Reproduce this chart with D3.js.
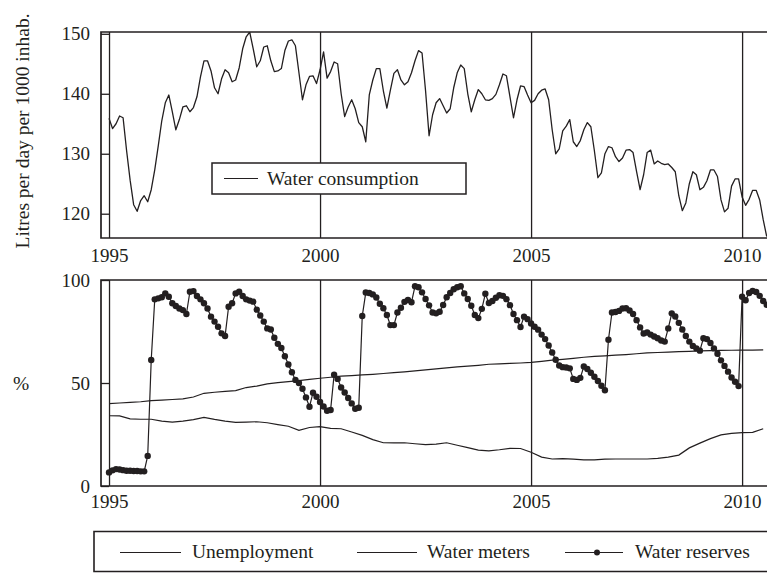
<!DOCTYPE html>
<html>
<head>
<meta charset="utf-8">
<script src="https://cdn.jsdelivr.net/npm/d3@7"></script>
<style>
  body { margin: 0; background: #fff; }
  svg { display: block; }
  text { font-family: "Liberation Serif", "Times New Roman", serif; fill: #231f20; }
</style>
</head>
<body>
<script>
// monthly series start in January 1995
const startYear = 1995;

// litres per day per 1000 inhab., monthly
const consumption = [
  135.9, 134.2, 135, 136.3, 136, 130.5, 125.6, 121.5, 120.4, 122.2, 123, 122,
  124, 127.3, 131.3, 135.5, 138.5, 139.8, 137, 134, 135.7, 137.8, 138, 137,
  137.7, 139.5, 142.8, 145.5, 145.5, 143.8, 141, 140, 142.5, 144, 143.5, 142,
  142.3, 144.3, 147.5, 149.5, 150.3, 147.5, 144.5, 145.5, 147.8, 148, 145.5, 143.7,
  143.8, 144.2, 147.2, 148.8, 149, 148, 143.5, 139, 141.5, 142.9, 143, 141.7,
  144, 147, 142.6, 143.7, 145.3, 145, 140, 136.2, 137.8, 139, 137.5, 135.2,
  134.5, 132, 139.8, 142.3, 144.2, 144.2, 140.5, 137.6, 140.6, 143.4, 144, 142.3,
  141.5, 142, 143.5, 145.5, 147.2, 146.8, 140.5, 133, 136.5, 138.5, 139.2, 138,
  136.8, 137.5, 141, 143.5, 144.8, 144.2, 140, 137, 139, 140.7, 140, 139,
  138.9, 139.2, 139.9, 141.5, 143.3, 143, 139.5, 136, 139, 141.3, 141.2, 139.8,
  138.5, 138.9, 140, 140.6, 140.8, 139, 134, 130, 130.8, 133.8, 134.6, 135.7,
  132, 131.2, 132.2, 134, 135.2, 134.5, 130.5, 126, 126.8, 130, 131.2, 131,
  129.5, 128.7, 129.3, 130.6, 130.7, 130.2, 127, 124, 126.5, 130.2, 130.6, 128.3,
  128.8, 128.4, 128.2, 128.3, 127.7, 127, 123, 120.5, 121.8, 125, 127, 126.5,
  124, 124.4, 125.5, 127.3, 127.3, 126.2, 122.3, 120.3, 120.9, 124.6, 125.8, 125.8,
  122.8, 121.4, 122.4, 123.9, 123.9, 122.3, 119, 116.2
];

// water reserves %, monthly
const reserves = [
  6.6, 7.6, 8.2, 8, 7.7, 7.4, 7.4, 7.3, 7.3, 7.1, 7.1, 14.6,
  61.2, 90.6, 91.1, 91.6, 93.5, 91.9, 88.7, 87.4, 86.2, 85.4, 83.5, 94.3,
  94.6, 92.2, 90.6, 88.7, 86.2, 82.2, 79.8, 77.3, 74.1, 72.8, 87, 88.7,
  93.5, 94.3, 92.2, 90.6, 90, 89.5, 85.6, 82.8, 79.8, 76.5, 76, 72,
  69, 67, 63, 59, 55.2, 51.5, 50, 47.2, 43, 38.5, 45.3, 43.3,
  40.8, 38.6, 36.5, 36.9, 54, 52, 47.8, 45.4, 42.7, 40.1, 37.5, 38,
  82.5, 93.9, 93.7, 93, 91.5, 88.5, 86.3, 83, 78.1, 78.1, 84.2, 86.5,
  89.4, 90.3, 89.2, 97, 96.5, 94, 90.8, 87.7, 84.2, 83.8, 84.6, 87.9,
  91.6, 93.7, 95.5, 96.5, 97, 93.5, 90.8, 87.5, 83, 81.5, 86, 93.3,
  88.8, 89.8, 91.4, 92.6, 92.3, 90.7, 87.8, 83.5, 80.5, 77.2, 82.2, 81,
  78.9, 77.3, 75.9, 73.5, 71.3, 68.2, 64.8, 61.3, 58.5, 57.7, 57.5, 57.1,
  52, 51.5, 52.5, 58, 56.8, 55, 53, 51, 48.7, 46.5, 71, 84.2,
  84.5, 85, 86.2, 86.3, 85.2, 83.5, 80.5, 77, 74, 74.5, 73.5, 72.6,
  71.7, 70.6, 70.1, 76.5, 83.8, 82.3, 79.2, 76, 72.8, 70.1, 68, 66.8,
  65.7, 71.7, 71.3, 69.4, 66.8, 64.2, 61, 58.3, 55.5, 52.7, 50.6, 48.5,
  91.9, 90.2, 93.7, 94.7, 94.2, 92.3, 89.8, 88
];

// quarterly series
const unemployment = [
  34.1, 34, 32.6, 32.4, 32.4, 31.5, 31, 31.5, 32.2, 33.3, 32.3, 31.5,
  30.9, 31, 31.2, 30.7, 29.8, 29, 27, 28.4, 28.8, 28, 27.8, 26.2,
  24.6, 22.5, 21, 20.9, 21, 20.5, 20.1, 20.3, 21, 19.8, 18.6, 17.4,
  17.1, 17.6, 18.3, 18.2, 16.4, 14, 13.1, 13.3, 13, 12.7, 12.7, 13,
  13.1, 13.1, 13.1, 13.1, 13.4, 14, 15, 18.5, 20.8, 23, 24.8, 25.5,
  25.9, 26, 27.8
];
const meters = [
  40, 40.3, 40.6, 40.9, 41.4, 41.7, 42, 42.3, 43.2, 45, 45.5, 45.9,
  46.3, 47.8, 48.5, 49.6, 50.2, 50.7, 51.2, 51.8, 52.3, 52.8, 53.3, 53.6,
  53.9, 54.2, 54.6, 55, 55.4, 55.9, 56.4, 56.9, 57.3, 57.8, 58.2, 58.6,
  59.1, 59.3, 59.5, 59.7, 60, 60.5, 61.1, 61.5, 62, 62.5, 62.9, 63.2,
  63.5, 63.8, 64.2, 64.6, 64.8, 65, 65.2, 65.4, 65.6, 65.7, 65.8, 65.9,
  66, 66, 66.1
];

const yearTicks = [1995, 2000, 2005, 2010];
const topTicks = [120, 130, 140, 150];
const bottomTicks = [0, 50, 100];
const legendNames = ['Unemployment', 'Water meters', 'Water reserves'];

const width = 767, height = 573;
const ink = '#231f20';
const left = 101, right = 767;

const svg = d3.select('body').append('svg')
  .attr('width', width)
  .attr('height', height);

const x = d3.scaleLinear().domain([1994.81, 2010.59]).range([left, right]);
const yTop = d3.scaleLinear().domain([115.95, 150.3]).range([238, 32]);
const yBot = d3.scaleLinear().domain([0, 100]).range([486, 280]);

const monthly = arr => arr.map((v, i) => ({ t: startYear + i / 12, v }));
const quarterly = arr => arr.map((v, i) => ({ t: startYear + i / 4, v }));

svg.append('clipPath').attr('id', 'clipTop')
  .append('rect').attr('x', left).attr('y', 32).attr('width', right - left).attr('height', 206);
svg.append('clipPath').attr('id', 'clipBot')
  .append('rect').attr('x', left).attr('y', 275).attr('width', right - left).attr('height', 211);

function panel(y, ticks, top, bottom, labelPad) {
  // vertical year lines + labels
  const xa = svg.append('g')
    .attr('transform', `translate(0,${bottom})`)
    .call(d3.axisBottom(x).tickValues(yearTicks).tickFormat(d3.format('d'))
      .tickSize(-(bottom - top)).tickPadding(labelPad));
  xa.select('.domain').remove();
  xa.selectAll('line').attr('stroke', ink).attr('stroke-width', 1.3);
  xa.selectAll('text').attr('font-size', 19).attr('fill', ink)
    .attr('font-family', '"Liberation Serif", serif');

  const ya = svg.append('g')
    .attr('transform', `translate(${x(1995)},0)`)
    .call(d3.axisLeft(y).tickValues(ticks).tickSize(x(1995) - left).tickPadding(11));
  ya.select('.domain').remove();
  ya.selectAll('line').attr('stroke', ink).attr('stroke-width', 1.3);
  ya.selectAll('text').attr('font-size', 19).attr('fill', ink)
    .attr('font-family', '"Liberation Serif", serif');

  // frame, open on the right where the picture is cut
  svg.append('path')
    .attr('d', `M${right},${top}H${left}V${bottom}H${right}`)
    .attr('fill', 'none').attr('stroke', ink).attr('stroke-width', 1.7);
}

panel(yTop, topTicks, 32, 238, 10.5);
panel(yBot, bottomTicks, 280, 486, 8.5);

// top line
const lineTop = d3.line().x(d => x(d.t)).y(d => yTop(d.v));
svg.append('path')
  .datum(monthly(consumption))
  .attr('clip-path', 'url(#clipTop)')
  .attr('d', lineTop)
  .attr('fill', 'none').attr('stroke', ink).attr('stroke-width', 1.3)
  .attr('stroke-linejoin', 'round');

// bottom lines
const lineBot = d3.line().x(d => x(d.t)).y(d => yBot(d.v));
[unemployment, meters].forEach(s => {
  svg.append('path')
    .datum(quarterly(s))
    .attr('clip-path', 'url(#clipBot)')
    .attr('d', lineBot)
    .attr('fill', 'none').attr('stroke', ink).attr('stroke-width', 1.2);
});

const res = monthly(reserves);
const gRes = svg.append('g').attr('clip-path', 'url(#clipBot)');
gRes.append('path')
  .datum(res)
  .attr('d', lineBot)
  .attr('fill', 'none').attr('stroke', ink).attr('stroke-width', 1.2);
gRes.selectAll('circle')
  .data(res)
  .enter()
  .append('circle')
    .attr('cx', d => x(d.t))
    .attr('cy', d => yBot(d.v))
    .attr('r', 3.2)
    .attr('fill', ink);

// axis titles
svg.append('text')
  .attr('transform', 'translate(29,131) rotate(-90)')
  .attr('text-anchor', 'middle')
  .attr('font-size', 19.5)
  .text('Litres per day per 1000 inhab.');

svg.append('text')
  .attr('x', 21).attr('y', 390)
  .attr('text-anchor', 'middle')
  .attr('font-size', 19.5)
  .text('%');

// top legend
const lg1 = svg.append('g');
lg1.append('rect')
  .attr('x', 212).attr('y', 163).attr('width', 254).attr('height', 31)
  .attr('fill', '#fff').attr('stroke', ink).attr('stroke-width', 1.5);
lg1.append('line')
  .attr('x1', 224).attr('x2', 258).attr('y1', 178.5).attr('y2', 178.5)
  .attr('stroke', ink).attr('stroke-width', 1.2);
lg1.append('text')
  .attr('x', 267).attr('y', 185)
  .attr('font-size', 19.5)
  .text('Water consumption');

// bottom legend
svg.append('path')
  .attr('d', `M${width},531.5H94V571.5H${width}`)
  .attr('fill', 'none').attr('stroke', ink).attr('stroke-width', 1.6);

const legendX = [[120, 181, 192], [357, 417, 427], [565, 623, 635]];
const lg2 = svg.append('g').selectAll('g')
  .data(legendNames)
  .enter()
  .append('g');
lg2.append('line')
  .attr('x1', (d, i) => legendX[i][0]).attr('x2', (d, i) => legendX[i][1])
  .attr('y1', 552.5).attr('y2', 552.5)
  .attr('stroke', ink).attr('stroke-width', 1.2);
lg2.filter((d, i) => i === 2).append('circle')
  .attr('cx', 597).attr('cy', 552.5)
  .attr('r', 3).attr('fill', ink);
lg2.append('text')
  .attr('x', (d, i) => legendX[i][2]).attr('y', 558)
  .attr('font-size', 19.5)
  .text(d => d);
</script>
</body>
</html>
